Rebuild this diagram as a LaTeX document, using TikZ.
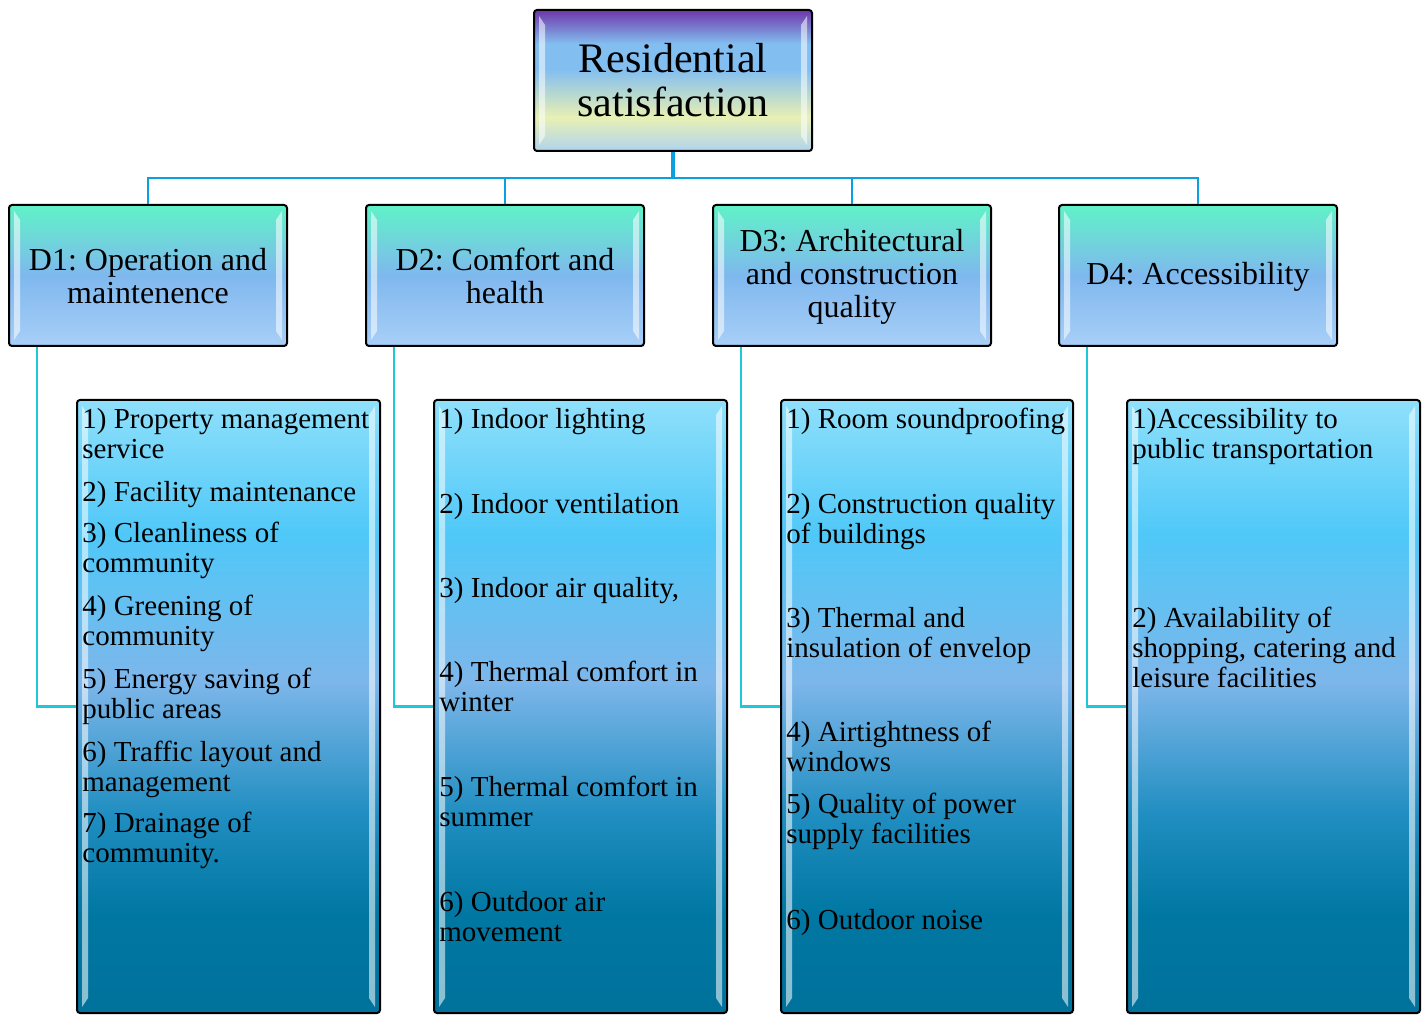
\documentclass[tikz,border=0pt]{standalone}
\usepackage{fontspec}
\setmainfont{Liberation Serif}
\usepackage{tikz}
\usetikzlibrary{
  positioning,
  calc
}
\frenchspacing
% box colours
\definecolor{rootpur}{HTML}{6E36AA}
\definecolor{rootsky}{HTML}{82BEF0}
\definecolor{rootyel}{HTML}{E8F0B4}
\definecolor{rootlow}{HTML}{B0D4EE}
\definecolor{dimtop}{HTML}{60F2C8}
\definecolor{dimmid}{HTML}{7FB8EE}
\definecolor{dimlow}{HTML}{A8CFF8}
\definecolor{listtop}{HTML}{8FE0FB}
\definecolor{listcyan}{HTML}{4FC8F8}
\definecolor{listsky}{HTML}{7DB6EA}
\definecolor{listteal}{HTML}{1F8DC0}
\definecolor{listdeep}{HTML}{0077A2}
\definecolor{listlow}{HTML}{00729C}
% connector colours
\definecolor{trunkblue}{HTML}{0AA0E0}
\definecolor{elbowcyan}{HTML}{1EC8D8}
\pgfdeclareverticalshading{rootshade}{100bp}{color(0bp)=(rootlow); color(25bp)=(rootlow);
  color(37bp)=(rootyel); color(54bp)=(rootsky); color(63bp)=(rootsky);
  color(75bp)=(rootpur); color(100bp)=(rootpur)}
\pgfdeclareverticalshading{dimshade}{100bp}{color(0bp)=(dimlow); color(25bp)=(dimlow);
  color(50bp)=(dimmid); color(75bp)=(dimtop); color(100bp)=(dimtop)}
\pgfdeclareverticalshading{listshade}{100bp}{color(0bp)=(listlow); color(25bp)=(listlow);
  color(33bp)=(listdeep); color(41bp)=(listteal); color(52bp)=(listsky);
  color(64bp)=(listcyan); color(75bp)=(listtop); color(100bp)=(listtop)}
% light stripes along the sides of a box
\newcommand{\bevel}[1]{%
  \fill[white, opacity=0.55] ($(#1.north west)+(6,7)$) -- ($(#1.north west)+(12,16)$)
    -- ($(#1.south west)+(12,-16)$) -- ($(#1.south west)+(6,-7)$) -- cycle;
  \fill[white, opacity=0.55] ($(#1.north east)+(-6,7)$) -- ($(#1.north east)+(-12,16)$)
    -- ($(#1.south east)+(-12,-16)$) -- ($(#1.south east)+(-6,-7)$) -- cycle;
}

\begin{document}
\begin{tikzpicture}[
  x=0.5pt, y=-0.5pt,
  basebox/.style={
    rectangle, rounded corners=1.5pt, draw=black, line width=1pt,
    shade, inner sep=0pt, align=center
  },
  rootbox/.style={
    basebox, shading=rootshade, minimum width=139pt, minimum height=70.5pt,
    font=\fontsize{21}{22}\selectfont
  },
  dimbox/.style={
    basebox, shading=dimshade, minimum width=139pt, minimum height=70.5pt,
    font=\fontsize{16}{16.5}\selectfont
  },
  listbox/.style={
    basebox, shading=listshade, minimum height=306.5pt
  },
  itemtext/.style={
    anchor=north west, align=left, inner sep=0pt,
    font=\fontsize{14.5}{15}\selectfont
  },
  trunk/.style={trunkblue, line width=2pt},
  branch/.style={trunkblue, line width=1.2pt},
  elbow/.style={elbowcyan, line width=1.1pt}
]
\useasboundingbox (0,0) rectangle (1427,1015);

% top level
\node[rootbox] (root) at (673,80.5) {Residential\\satisfaction};

% dimensions
\node[dimbox] (d1) at (148,275.5) {\rule{0pt}{12pt}D1: Operation and\\maintenence};
\node[dimbox] (d2) at (505,275.5) {\rule{0pt}{12pt}D2: Comfort and\\health};
\node[dimbox] (d3) at (852,275.5) {\rule{0pt}{12pt}D3: Architectural\\and construction\\quality};
\node[dimbox] (d4) at (1198,275.5) {\rule{0pt}{12pt}D4: Accessibility};

% item lists
\node[listbox, minimum width=151.5pt] (l1) at (228.5,706.5) {};
\node[listbox, minimum width=146.5pt] (l2) at (580.5,706.5) {};
\node[listbox, minimum width=146pt] (l3) at (927,706.5) {};
\node[listbox, minimum width=146.5pt] (l4) at (1273.5,706.5) {};

\foreach \n in {root,d1,d2,d3,d4,l1,l2,l3,l4}
  \bevel{\n};

% connectors
\coordinate (hub) at (673,178);
\draw[trunk] (root.south) -- (hub);
\foreach \d in {d1,d2,d3,d4}
  \draw[branch] (hub) -| (\d.north);
\foreach \i in {1,...,4}
  \draw[elbow] ([xshift=14.5pt]d\i.south west) |- (l\i.west);

% items (y = baseline of first line)
\foreach \y/\txt [count=\k] in {
  428/{1) Property management\\service},
  501/{2) Facility maintenance},
  542/{3) Cleanliness of\\community},
  615/{4) Greening of\\community},
  688/{5) Energy saving of\\public areas},
  761/{6) Traffic layout and\\management},
  832/{7) Drainage of\\community.}}
  \node[itemtext] (i1\k) at (82,\y-22) {\rule{0pt}{11pt}\txt};

\foreach \y/\txt [count=\k] in {
  428/{1) Indoor lighting},
  513/{2) Indoor ventilation},
  597/{3) Indoor air quality,},
  681/{4) Thermal comfort in\\winter},
  796/{5) Thermal comfort in\\summer},
  911/{6) Outdoor air\\movement}}
  \node[itemtext] (i2\k) at (439,\y-22) {\rule{0pt}{11pt}\txt};

\foreach \y/\txt [count=\k] in {
  428/{1) Room soundproofing},
  513/{2) Construction quality\\of buildings},
  627/{3) Thermal and\\insulation of envelop},
  741/{4) Airtightness of\\windows},
  813/{5) Quality of power\\supply facilities},
  929/{6) Outdoor noise}}
  \node[itemtext] (i3\k) at (786,\y-22) {\rule{0pt}{11pt}\txt};

\foreach \y/\txt [count=\k] in {
  428/{1)Accessibility to\\public transportation},
  627/{2) Availability of\\shopping, catering and\\leisure facilities}}
  \node[itemtext] (i4\k) at (1132,\y-22) {\rule{0pt}{11pt}\txt};

\end{tikzpicture}
\end{document}
